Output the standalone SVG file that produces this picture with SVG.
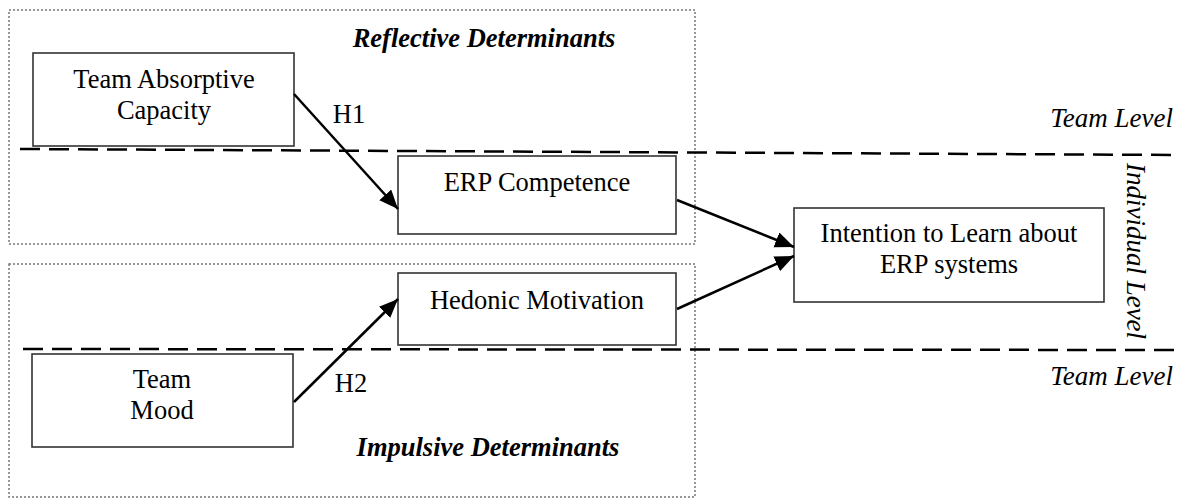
<svg xmlns="http://www.w3.org/2000/svg" width="1177" height="498" viewBox="0 0 1177 498">
<style>
  .region { fill: none; stroke: #777; stroke-width: 1.5; stroke-dasharray: 2 2; }
  .box { fill: #fff; stroke: #333; stroke-width: 1.6; }
  .lvl { stroke: #000; stroke-width: 2.5; stroke-dasharray: 20 9; fill: none; }
  .t { font-family: "Liberation Serif", "Times New Roman", serif; font-size: 26.5px; fill: #000; text-anchor: middle; }
  .title { font-family: "Liberation Serif", "Times New Roman", serif; font-size: 26.5px; font-weight: bold; font-style: italic; fill: #000; text-anchor: middle; }
  .lvltxt { font-family: "Liberation Serif", "Times New Roman", serif; font-size: 27px; font-style: italic; fill: #000; }
  .arrow { stroke: #000; stroke-width: 2.5; fill: none; marker-end: url(#ah); }
</style>
<defs>
  <marker id="ah" markerUnits="userSpaceOnUse" markerWidth="22" markerHeight="18" refX="19" refY="8" orient="auto">
    <path d="M0,0 L19,8 L0,16 Z" fill="#000"/>
  </marker>
</defs>
<rect width="1177" height="498" fill="#fff"/>

<g id="regions">
  <rect class="region" x="9" y="10" width="686" height="234"/>
  <rect class="region" x="9" y="264" width="686" height="233"/>
  <text class="title" x="484" y="47">Reflective Determinants</text>
  <text class="title" x="488" y="456">Impulsive Determinants</text>
</g>

<g id="levels">
  <line class="lvl" x1="20" y1="149" x2="1177" y2="155"/>
  <line class="lvl" x1="23" y1="349" x2="1177" y2="350"/>
  <text class="lvltxt" x="1173" y="127" text-anchor="end">Team Level</text>
  <text class="lvltxt" x="1173" y="385" text-anchor="end">Team Level</text>
  <text class="lvltxt" transform="translate(1127,251) rotate(90)" text-anchor="middle">Individual Level</text>
</g>

<g id="node-tac">
  <rect class="box" x="33" y="53" width="261" height="93"/>
  <text class="t" x="164" y="88">Team Absorptive</text>
  <text class="t" x="164" y="119">Capacity</text>
</g>

<g id="node-erp">
  <rect class="box" x="398" y="156" width="278" height="78"/>
  <text class="t" x="537" y="191">ERP Competence</text>
</g>

<g id="node-hm">
  <rect class="box" x="398" y="273" width="278" height="72"/>
  <text class="t" x="537" y="309">Hedonic Motivation</text>
</g>

<g id="node-tm">
  <rect class="box" x="32" y="354" width="261" height="93"/>
  <text class="t" x="162" y="388">Team</text>
  <text class="t" x="162" y="419">Mood</text>
</g>

<g id="node-itl">
  <rect class="box" x="794" y="208" width="310" height="94"/>
  <text class="t" x="949" y="242">Intention to Learn about</text>
  <text class="t" x="949" y="273">ERP systems</text>
</g>

<g id="connectors">
  <line class="arrow" x1="294" y1="94" x2="398" y2="209"/>
  <line class="arrow" x1="294" y1="402" x2="398" y2="299"/>
  <line class="arrow" x1="677" y1="200" x2="794" y2="247"/>
  <line class="arrow" x1="677" y1="309" x2="794" y2="256"/>
  <text class="t" x="349" y="123">H1</text>
  <text class="t" x="351" y="392">H2</text>
</g>
</svg>
